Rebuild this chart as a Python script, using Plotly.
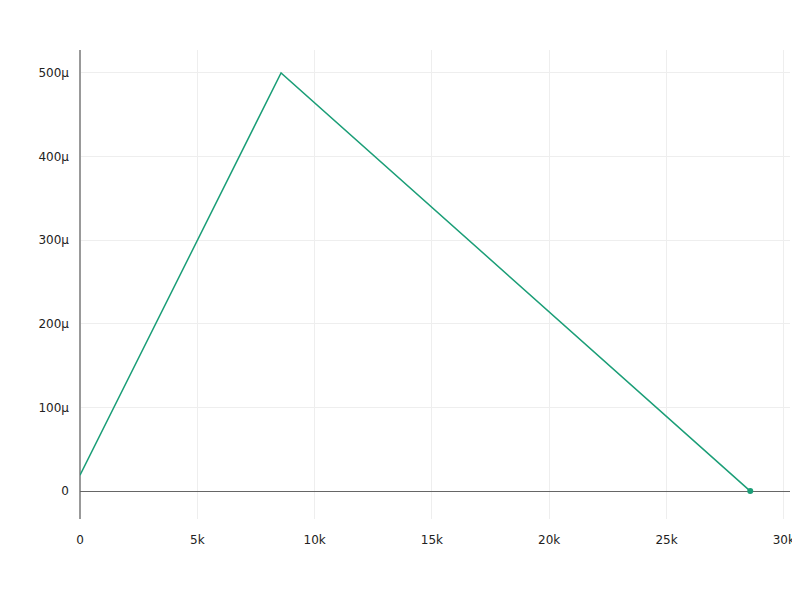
import plotly.graph_objects as go

steps = [0, 8570, 28570]
lr = [19e-6, 500e-6, 0.0]

fig = go.Figure()
fig.add_trace(go.Scatter(x=steps, y=lr, mode="lines",
                         line=dict(color="#1b9e77", width=1.5), showlegend=False))
fig.add_trace(go.Scatter(x=steps[-1:], y=lr[-1:], mode="markers",
                         marker=dict(color="#1b9e77", size=6), showlegend=False))

fig.update_layout(
    width=792, height=570,
    margin=dict(l=72, r=10, t=42, b=59, autoexpand=False),
    plot_bgcolor="white", paper_bgcolor="white",
    font=dict(family="DejaVu Sans, sans-serif", size=12, color="#222"),
)
fig.update_xaxes(range=[0, 30264], dtick=5000, showgrid=True, gridcolor="#eeeeee",
                 zeroline=True, zerolinecolor="#999999", zerolinewidth=2,
                 showline=False, ticks="", automargin=False, ticklabelstandoff=12)
fig.update_yaxes(range=[-33.4e-6, 527.4e-6], dtick=100e-6, showgrid=True, gridcolor="#eeeeee",
                 zeroline=True, zerolinecolor="#666666", zerolinewidth=1,
                 showline=False, ticks="", exponentformat="SI", automargin=False,
                 ticklabelstandoff=10)

fig.write_html("out.html")
